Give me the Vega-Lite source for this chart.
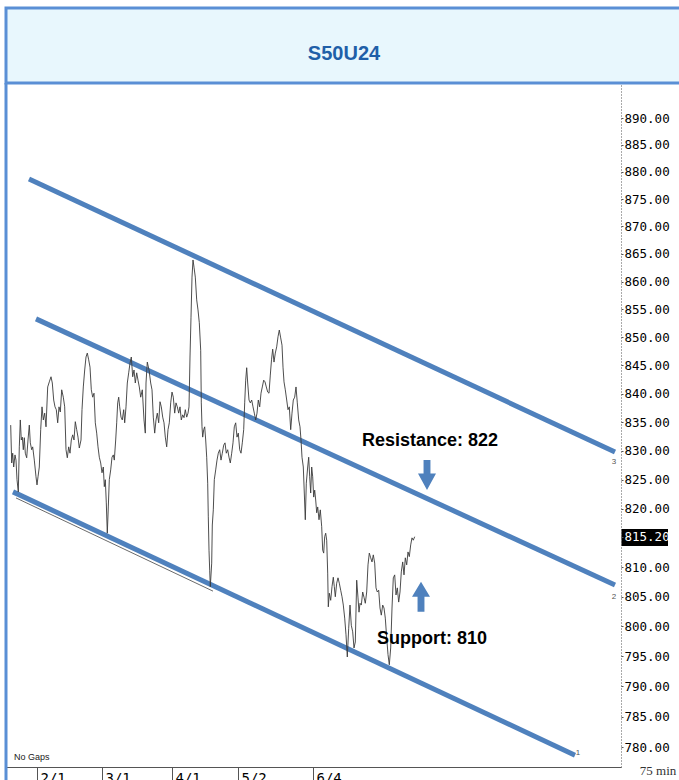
{
  "$schema": "https://vega.github.io/schema/vega-lite/v6.json",
  "background": "white",
  "padding": {"left": 3, "top": 6, "right": 0, "bottom": 0},
  "spacing": 0,
  "bounds": "flush",
  "config": {"view": {"stroke": null}},
  "datasets": {
    "price": [
      {"i":10.7,"p":834.5},{"i":11.7,"p":827.9},{"i":12.7,"p":829.6},{"i":13.7,"p":827.2},{"i":15,"p":829.3},{"i":16,"p":828.4},{"i":17,"p":825.0},{"i":18.3,"p":822.9},{"i":19.3,"p":830.7},{"i":20.3,"p":835.4},{"i":21.3,"p":831.9},{"i":22.3,"p":832.4},{"i":23.3,"p":830.2},{"i":24.3,"p":832.3},{"i":25.3,"p":829.6},{"i":26.7,"p":828.8},{"i":28,"p":831.9},{"i":29.3,"p":834.5},{"i":30.3,"p":831.4},{"i":31.7,"p":830.2},{"i":32.7,"p":830.7},{"i":34.3,"p":828.4},{"i":36,"p":825.5},{"i":37,"p":824.1},{"i":38,"p":825.5},{"i":39.3,"p":827.2},{"i":40.7,"p":833.7},{"i":42,"p":837.7},{"i":43.3,"p":835.4},{"i":44.7,"p":836.6},{"i":46,"p":834.2},{"i":47.7,"p":841.2},{"i":49.3,"p":842.1},{"i":51,"p":843.0},{"i":52.3,"p":841.9},{"i":53.7,"p":838.9},{"i":55,"p":837.7},{"i":56.3,"p":837.2},{"i":57.7,"p":834.9},{"i":59,"p":837.7},{"i":60.3,"p":836.8},{"i":61.7,"p":840.7},{"i":63.3,"p":839.4},{"i":64.7,"p":837.7},{"i":66,"p":830.2},{"i":67.3,"p":828.8},{"i":68.7,"p":830.7},{"i":70,"p":829.6},{"i":71.3,"p":831.9},{"i":72.7,"p":832.8},{"i":74,"p":831.9},{"i":75.3,"p":835.1},{"i":76.7,"p":833.7},{"i":78,"p":832.4},{"i":79.3,"p":830.5},{"i":81,"p":831.9},{"i":82,"p":837.2},{"i":83.3,"p":841.2},{"i":84.7,"p":844.2},{"i":86,"p":846.5},{"i":87.3,"p":847.2},{"i":88.7,"p":846.0},{"i":90,"p":844.7},{"i":91.3,"p":840.7},{"i":92.7,"p":839.4},{"i":94,"p":840.1},{"i":95.3,"p":834.9},{"i":96.7,"p":833.1},{"i":98,"p":830.7},{"i":99.3,"p":828.9},{"i":100.7,"p":827.9},{"i":102,"p":826.2},{"i":103.3,"p":827.2},{"i":104.3,"p":823.8},{"i":105.3,"p":825.0},{"i":106.3,"p":821.0},{"i":107.3,"p":815.8},{"i":108.3,"p":820.3},{"i":109.3,"p":825.0},{"i":110.7,"p":826.7},{"i":112,"p":828.9},{"i":113.3,"p":829.3},{"i":114.3,"p":828.4},{"i":115.7,"p":831.9},{"i":116.7,"p":834.9},{"i":117.7,"p":838.4},{"i":118.7,"p":839.4},{"i":119.7,"p":837.7},{"i":121,"p":835.9},{"i":122.3,"p":835.4},{"i":123.7,"p":837.2},{"i":124.7,"p":834.9},{"i":126,"p":837.7},{"i":127.3,"p":841.9},{"i":128.7,"p":843.7},{"i":130,"p":845.4},{"i":131.3,"p":846.5},{"i":132.7,"p":843.0},{"i":134,"p":844.2},{"i":135.3,"p":841.9},{"i":136.7,"p":843.7},{"i":138,"p":842.4},{"i":139.3,"p":841.2},{"i":140.7,"p":839.4},{"i":142.3,"p":840.7},{"i":144,"p":835.4},{"i":145.3,"p":833.1},{"i":146,"p":841.9},{"i":147.3,"p":845.6},{"i":149,"p":844.2},{"i":150.7,"p":841.9},{"i":152,"p":840.7},{"i":153.3,"p":835.9},{"i":154.7,"p":833.1},{"i":156,"p":835.4},{"i":157.3,"p":836.6},{"i":158.7,"p":834.9},{"i":160,"p":838.6},{"i":161.3,"p":837.7},{"i":162.7,"p":835.9},{"i":164,"p":834.9},{"i":165.3,"p":832.4},{"i":166.7,"p":830.7},{"i":168,"p":833.7},{"i":169.3,"p":834.9},{"i":170.7,"p":838.4},{"i":172,"p":840.3},{"i":173.3,"p":839.4},{"i":174.7,"p":836.6},{"i":176,"p":838.4},{"i":177.3,"p":837.7},{"i":178.7,"p":836.6},{"i":180,"p":837.7},{"i":181.3,"p":835.4},{"i":182.7,"p":836.3},{"i":184,"p":835.8},{"i":185.3,"p":837.2},{"i":186.7,"p":835.9},{"i":188,"p":836.6},{"i":189,"p":837.7},{"i":190,"p":846.5},{"i":191,"p":853.6},{"i":192,"p":860.8},{"i":193,"p":863.9},{"i":194,"p":862.6},{"i":195.3,"p":860.8},{"i":196.7,"p":856.7},{"i":198,"p":854.9},{"i":199.3,"p":852.6},{"i":200.7,"p":847.7},{"i":201.3,"p":838.4},{"i":202,"p":834.2},{"i":202.7,"p":832.4},{"i":203.7,"p":833.7},{"i":204.7,"p":834.2},{"i":205.7,"p":831.9},{"i":206.7,"p":828.9},{"i":207.7,"p":824.4},{"i":208.3,"p":818.6},{"i":209,"p":812.9},{"i":209.7,"p":809.5},{"i":210.3,"p":806.7},{"i":211.7,"p":810.7},{"i":212.3,"p":817.2},{"i":213.3,"p":819.8},{"i":214.3,"p":825.0},{"i":215.7,"p":826.7},{"i":217,"p":828.4},{"i":218.3,"p":829.6},{"i":219.7,"p":830.2},{"i":221,"p":828.4},{"i":222.3,"p":829.6},{"i":223.7,"p":831.0},{"i":225,"p":831.4},{"i":226.3,"p":829.6},{"i":227.7,"p":830.2},{"i":229,"p":828.9},{"i":230.3,"p":827.9},{"i":231.7,"p":829.6},{"i":233,"p":831.4},{"i":234.3,"p":834.2},{"i":235.7,"p":834.9},{"i":237,"p":832.4},{"i":238.3,"p":833.1},{"i":239.7,"p":830.2},{"i":241,"p":829.6},{"i":242.3,"p":831.4},{"i":243.7,"p":833.7},{"i":244.7,"p":838.4},{"i":245.7,"p":842.4},{"i":246.7,"p":844.6},{"i":247.7,"p":841.9},{"i":249,"p":838.9},{"i":250.3,"p":838.4},{"i":251.7,"p":838.9},{"i":253,"p":837.7},{"i":254.3,"p":836.6},{"i":255.7,"p":835.4},{"i":257,"p":836.6},{"i":258.3,"p":838.9},{"i":259.7,"p":837.7},{"i":261,"p":840.1},{"i":262.3,"p":841.2},{"i":263.7,"p":842.4},{"i":265,"p":842.1},{"i":266.3,"p":841.2},{"i":267.7,"p":840.3},{"i":269,"p":840.1},{"i":270.3,"p":843.3},{"i":271.5,"p":846.0},{"i":272.7,"p":847.9},{"i":274,"p":845.6},{"i":275.3,"p":847.2},{"i":276.7,"p":848.3},{"i":278,"p":850.1},{"i":279.3,"p":851.3},{"i":280.7,"p":849.9},{"i":282,"p":848.6},{"i":283,"p":844.7},{"i":284,"p":842.1},{"i":285.3,"p":840.7},{"i":286.7,"p":838.9},{"i":288,"p":837.2},{"i":289.3,"p":837.7},{"i":290.7,"p":833.7},{"i":292,"p":836.6},{"i":293.3,"p":838.9},{"i":294.7,"p":839.4},{"i":296,"p":841.2},{"i":297.3,"p":838.4},{"i":298.7,"p":835.4},{"i":300,"p":834.2},{"i":301,"p":831.9},{"i":302,"p":828.9},{"i":303.3,"p":827.2},{"i":304.3,"p":822.7},{"i":305.3,"p":818.1},{"i":306.3,"p":824.4},{"i":307.7,"p":827.2},{"i":308.7,"p":828.9},{"i":309.7,"p":825.5},{"i":310.7,"p":822.7},{"i":311.7,"p":827.2},{"i":312.7,"p":825.5},{"i":313.7,"p":822.0},{"i":314.7,"p":823.2},{"i":315.7,"p":821.5},{"i":316.7,"p":819.3},{"i":317.7,"p":820.3},{"i":319,"p":818.1},{"i":320.3,"p":819.8},{"i":321.7,"p":816.9},{"i":322.7,"p":812.9},{"i":323.7,"p":812.4},{"i":324.7,"p":815.2},{"i":325.7,"p":815.8},{"i":326.7,"p":814.6},{"i":327.7,"p":809.0},{"i":328.3,"p":803.3},{"i":329.3,"p":805.6},{"i":330.7,"p":804.4},{"i":332,"p":806.7},{"i":333.3,"p":808.3},{"i":334.3,"p":806.7},{"i":335.3,"p":805.0},{"i":336.7,"p":807.3},{"i":338,"p":808.2},{"i":339.3,"p":807.3},{"i":340.7,"p":806.1},{"i":342,"p":805.0},{"i":343.3,"p":803.6},{"i":344.7,"p":801.4},{"i":346,"p":798.6},{"i":347.3,"p":794.9},{"i":348.7,"p":799.7},{"i":350,"p":803.6},{"i":351.3,"p":800.2},{"i":352.7,"p":799.1},{"i":354,"p":796.4},{"i":355.3,"p":797.4},{"i":356.7,"p":807.8},{"i":358,"p":804.8},{"i":359,"p":802.4},{"i":360,"p":803.9},{"i":361.3,"p":803.6},{"i":362.7,"p":805.8},{"i":364,"p":804.9},{"i":365.3,"p":803.9},{"i":366.7,"p":805.8},{"i":368,"p":810.4},{"i":369.3,"p":812.4},{"i":370.7,"p":811.6},{"i":372,"p":810.9},{"i":373.3,"p":812.1},{"i":374.7,"p":810.7},{"i":376,"p":806.5},{"i":377.3,"p":805.8},{"i":378.7,"p":806.1},{"i":380,"p":803.1},{"i":381.3,"p":801.9},{"i":382.7,"p":803.6},{"i":384,"p":803.1},{"i":385.3,"p":801.4},{"i":386.7,"p":798.1},{"i":388,"p":795.3},{"i":389.3,"p":793.6},{"i":390.7,"p":796.4},{"i":392,"p":803.1},{"i":393.3,"p":808.2},{"i":394.7,"p":808.7},{"i":396,"p":805.3},{"i":397.3,"p":806.5},{"i":398.7,"p":804.1},{"i":400,"p":805.8},{"i":401.3,"p":809.2},{"i":402.7,"p":810.9},{"i":404,"p":808.7},{"i":405.3,"p":811.6},{"i":406.7,"p":810.4},{"i":408,"p":812.6},{"i":409.3,"p":811.8},{"i":410.7,"p":813.8},{"i":412,"p":815.0},{"i":413.3,"p":814.6},{"i":414.7,"p":815.2}
    ],
    "channels": [
      {"line":"upper","i":29,"p":878.7},{"line":"upper","i":615,"p":829.8},
      {"line":"middle","i":36,"p":853.3},{"line":"middle","i":615,"p":807.0},
      {"line":"lower","i":13,"p":822.9},{"line":"lower","i":575,"p":778.7}
    ],
    "original": [{"i":16,"p":821.85},{"i":213,"p":805.95}],
    "arrows": [{"dir":"down","i":427,"p":825.8},{"dir":"up","i":421,"p":805.0}],
    "notes": [{"label":"Resistance: 822","i":430,"p":831.7},{"label":"Support: 810","i":432,"p":797.9}],
    "lineIds": [{"label":"3","i":614,"p":828.1},{"label":"2","i":614,"p":805.0},{"label":"1","i":578,"p":779.0}],
    "last": [{"i":621.5,"i2":668,"p":816.5,"p2":813.6}],
    "frame": [{"i":6,"p":896.56,"p2":774}],
    "misc": [{"label":"No Gaps","i":14,"p":778.4}],
    "interval": [{"label":"75 min","i":658,"p":776.1}]
  },
  "vconcat": [
    {
      "width": 676,
      "height": 75,
      "view": {"fill": "#e8f7fd", "stroke": "#5a8fd5", "strokeWidth": 3},
      "data": {"values": [{"title": "S50U24"}]},
      "mark": {"type": "text", "font": "Liberation Sans", "fontWeight": "bold", "fontSize": 20, "color": "#1f5fa8", "dy": 8, "baseline": "middle", "align": "center"},
      "encoding": {"text": {"field": "title", "type": "nominal"}}
    },
    {
      "width": 615,
      "height": 684,
      "view": {"stroke": null},
      "encoding": {
        "x": {
          "field": "i", "type": "quantitative",
          "scale": {"domain": [6, 621], "nice": false, "zero": false},
          "axis": {
            "orient": "bottom", "title": null, "grid": false,
            "values": [37, 102, 172, 238, 313],
            "labelExpr": "datum.value == 37 ? '2/1' : datum.value == 102 ? '3/1' : datum.value == 172 ? '4/1' : datum.value == 238 ? '5/2' : '6/4'",
            "labelAlign": "left", "labelBaseline": "top", "labelFont": "DejaVu Sans Mono", "labelFontSize": 14,
            "labelColor": "#000", "labelPadding": -10, "labelOffset": 3, "labelOverlap": false, "labelFlush": false,
            "tickSize": 14, "tickColor": "#555", "domainColor": "#555"
          }
        },
        "y": {
          "field": "p", "type": "quantitative",
          "scale": {"type": "log", "domain": [776.77, 896.56], "nice": false},
          "axis": {
            "orient": "right", "title": null, "grid": false,
            "values": [890, 885, 880, 875, 870, 865, 860, 855, 850, 845, 840, 835, 830, 825, 820, 815.2, 810, 805, 800, 795, 790, 785, 780],
            "format": ".2f", "labelFont": "DejaVu Sans Mono", "labelFontSize": 12.5,
            "labelColor": {"condition": {"test": "datum.value == 815.2", "value": "white"}, "value": "#000"},
            "labelPadding": 1, "labelOverlap": false, "labelBaseline": "middle",
            "tickSize": 2, "tickColor": "#555", "domainColor": "#555", "domainDash": [1, 2], "zindex": 1
          }
        }
      },
      "layer": [
        {
          "data": {"name": "frame"},
          "mark": {"type": "rule", "color": "#5a8fd5", "strokeWidth": 3, "clip": false},
          "encoding": {"y2": {"field": "p2"}}
        },
        {
          "data": {"name": "last"},
          "mark": {"type": "rect", "color": "#000", "clip": false},
          "encoding": {"x2": {"field": "i2"}, "y2": {"field": "p2"}}
        },
        {
          "data": {"name": "original"},
          "mark": {"type": "line", "color": "#444", "strokeWidth": 0.8},
          "encoding": {}
        },
        {
          "data": {"name": "channels"},
          "mark": {"type": "line", "color": "#4f81bd", "strokeWidth": 5, "strokeCap": "butt"},
          "encoding": {"detail": {"field": "line", "type": "nominal"}}
        },
        {
          "data": {"name": "price"},
          "mark": {"type": "line", "color": "#3a3a3a", "strokeWidth": 0.9},
          "encoding": {}
        },
        {
          "data": {"name": "arrows"},
          "transform": [{"filter": "datum.dir == 'down'"}],
          "mark": {"type": "point", "filled": true, "size": 900, "color": "#4f81bd", "opacity": 1, "strokeWidth": 0,
                   "shape": "M-0.23,-1 L0.23,-1 L0.23,-0.1 L0.6,-0.1 L0,1 L-0.6,-0.1 L-0.23,-0.1 Z"},
          "encoding": {}
        },
        {
          "data": {"name": "arrows"},
          "transform": [{"filter": "datum.dir == 'up'"}],
          "mark": {"type": "point", "filled": true, "size": 900, "color": "#4f81bd", "opacity": 1, "strokeWidth": 0,
                   "shape": "M-0.23,1 L0.23,1 L0.23,0 L0.6,0 L0,-1 L-0.6,0 L-0.23,0 Z"},
          "encoding": {}
        },
        {
          "data": {"name": "notes"},
          "mark": {"type": "text", "font": "Liberation Sans", "fontWeight": "bold", "fontSize": 18, "color": "#000", "align": "center", "baseline": "middle"},
          "encoding": {"text": {"field": "label", "type": "nominal"}}
        },
        {
          "data": {"name": "lineIds"},
          "mark": {"type": "text", "font": "Liberation Sans", "fontSize": 8, "color": "#555", "align": "center", "baseline": "middle", "clip": false},
          "encoding": {"text": {"field": "label", "type": "nominal"}}
        },
        {
          "data": {"name": "misc"},
          "mark": {"type": "text", "font": "Liberation Sans", "fontSize": 9, "color": "#222", "align": "left", "baseline": "middle"},
          "encoding": {"text": {"field": "label", "type": "nominal"}}
        },
        {
          "data": {"name": "interval"},
          "mark": {"type": "text", "font": "Liberation Serif", "fontSize": 13, "color": "#333", "align": "center", "baseline": "middle", "clip": false},
          "encoding": {"text": {"field": "label", "type": "nominal"}}
        }
      ]
    }
  ]
}
